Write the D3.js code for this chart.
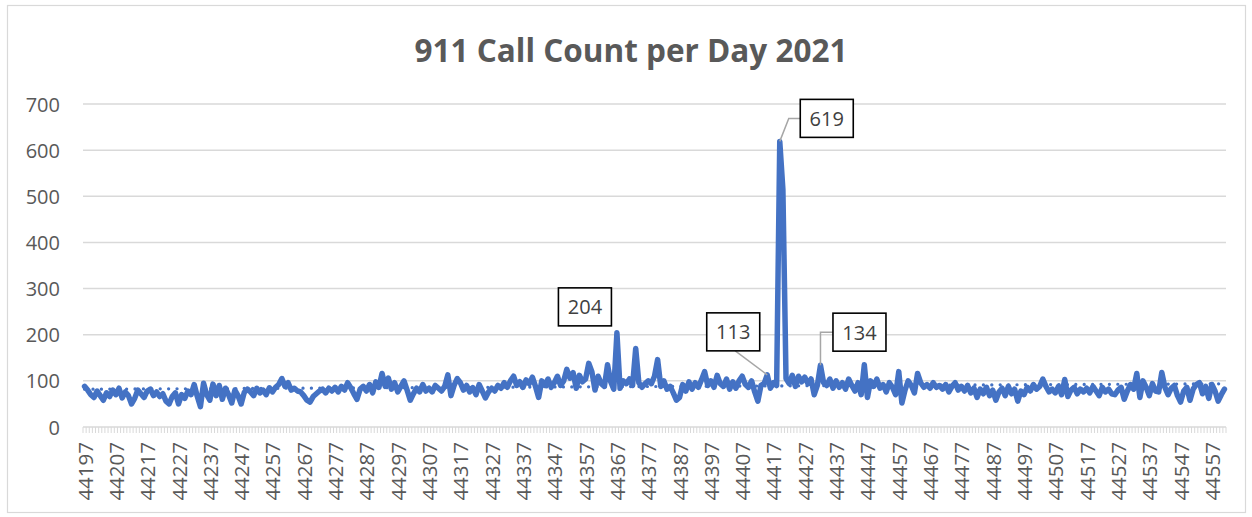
<!DOCTYPE html>
<html>
<head>
<meta charset="utf-8">
<script src="https://cdn.jsdelivr.net/npm/d3@7/dist/d3.min.js"></script>
<style>
  html, body { margin: 0; padding: 0; background: #fff; }
  svg { display: block; }
</style>
</head>
<body>
<svg id="chart" width="1252" height="517"></svg>
<script>
// ---------------- DATA ----------------
const chartTitle = "911 Call Count per Day 2021";
const firstDate = 44197;   // Excel serial date for 2021-01-01
const dayCount = 365;
const dates = d3.range(firstDate, firstDate + dayCount);

const callCounts = [
  88, 80, 70, 64, 78, 68, 58, 74, 66, 80,
  70, 84, 63, 76, 68, 50, 62, 80, 72, 64,
  78, 82, 68, 76, 66, 72, 56, 50, 66, 74,
  50, 70, 62, 78, 70, 92, 66, 44, 95, 70,
  58, 93, 68, 90, 60, 84, 70, 52, 80, 68,
  50, 75, 82, 76, 68, 84, 74, 80, 70, 85,
  76, 86, 92, 105, 88, 96, 80, 84, 78, 76,
  68, 58, 54, 66, 72, 78, 82, 74, 84, 78,
  86, 76, 88, 80, 96, 85, 72, 60, 82, 88,
  78, 92, 74, 98, 86, 116, 88, 106, 82, 96,
  76, 88, 100, 80, 58, 72, 84, 76, 92, 78,
  84, 76, 90, 84, 78, 88, 113, 68, 90, 105,
  96, 80, 90, 76, 85, 70, 92, 78, 63, 76,
  84, 78, 90, 84, 96, 86, 100, 110, 90, 98,
  86, 102, 94, 108, 88, 64, 100, 90, 104, 86,
  96, 110, 90, 100, 125, 106, 118, 84, 112, 98,
  104, 138, 120, 80, 110, 94, 88, 135, 98, 82,
  204, 84, 100, 94, 104, 90, 170, 96, 86, 94,
  100, 94, 110, 146, 88, 100, 82, 88, 74, 58,
  64, 92, 78, 98, 82, 96, 86, 102, 120, 90,
  100, 86, 112, 94, 88, 104, 82, 98, 84, 100,
  110, 92, 86, 100, 76, 56, 90, 94, 113, 84,
  96, 90, 619, 515, 105, 94, 112, 88, 110, 98,
  108, 94, 104, 70, 90, 134, 96, 90, 104, 84,
  100, 86, 96, 82, 104, 90, 78, 96, 70, 135,
  64, 100, 88, 104, 84, 92, 76, 96, 86, 70,
  120, 52, 80, 100, 90, 74, 116, 96, 86, 92,
  84, 96, 86, 90, 82, 92, 76, 88, 96, 80,
  88, 78, 90, 74, 84, 64, 82, 72, 86, 68,
  80, 58, 76, 84, 68, 88, 72, 82, 56, 78,
  70, 86, 78, 92, 82, 88, 104, 88, 76, 82,
  74, 88, 70, 103, 66, 80, 86, 72, 82, 76,
  84, 74, 88, 78, 68, 86, 76, 82, 72, 70,
  80, 86, 60, 78, 92, 82, 116, 64, 100, 86,
  68, 94, 78, 76, 118, 86, 70, 84, 90, 68,
  54, 78, 86, 58, 82, 92, 96, 72, 88, 62,
  92, 78, 56, 70, 82
];

const yTicks = [0, 100, 200, 300, 400, 500, 600, 700];
const xTickLabels = [44197, 44207, 44217, 44227, 44237, 44247, 44257, 44267, 44277,
  44287, 44297, 44307, 44317, 44327, 44337, 44347, 44357, 44367, 44377, 44387,
  44397, 44407, 44417, 44427, 44437, 44447, 44457, 44467, 44477, 44487, 44497,
  44507, 44517, 44527, 44537, 44547, 44557];

// annotated points (dates)
const labelledDates = [44367, 44415, 44419, 44432];

// ---------------- LAYOUT / STYLE ----------------
const W = 1252, H = 517;
const plot = { left: 83, right: 1226, top: 104, bottom: 427 };
const colors = { line: "#4472C4", grid: "#D9D9D9", text: "#595959", label: "#404040", leader: "#A6A6A6" };
const fontFamily = "'Open Sans', 'Liberation Sans', sans-serif";
// label box offsets relative to the data point
const labelLayout = {
  44367: { dx: -32, dy: -26, leader: "none" },
  44415: { dx: -34, dy: -43, leader: "diag" },
  44419: { dx: 47, dy: -23, leader: "elbowH" },
  44432: { dx: 39, dy: -33, leader: "elbowV" }
};
const boxW = 53, boxH = 38;

const svg = d3.select("#chart");
svg.append("rect").attr("x", 0).attr("y", 0).attr("width", W).attr("height", H).attr("fill", "#fff");
svg.append("rect").attr("x", 7.5).attr("y", 5.5).attr("width", 1238).attr("height", 507)
  .attr("fill", "none").attr("stroke", colors.grid).attr("stroke-width", 1.2);

const x = d3.scalePoint().domain(dates).range([plot.left, plot.right]).padding(0.5);
const step = x.step();
const y = d3.scaleLinear().domain([0, 700]).range([plot.bottom, plot.top]);

// gridlines
svg.append("g").selectAll("line").data(yTicks.filter(d => d > 0)).join("line")
  .attr("x1", plot.left).attr("x2", plot.right)
  .attr("y1", d => y(d)).attr("y2", d => y(d))
  .attr("stroke", colors.grid).attr("stroke-width", 1.5);

// y labels
svg.append("g").selectAll("text").data(yTicks).join("text")
  .attr("x", 60).attr("y", d => y(d))
  .attr("text-anchor", "end").attr("dominant-baseline", "central")
  .attr("font-family", fontFamily).attr("font-size", 20).attr("fill", colors.text)
  .text(d => d);

// x axis line + tick marks at category boundaries
svg.append("line").attr("x1", plot.left).attr("x2", plot.right)
  .attr("y1", y(0)).attr("y2", y(0)).attr("stroke", colors.grid).attr("stroke-width", 1.5);
const boundaries = dates.map(d => x(d) - step / 2).concat([x(dates[dates.length - 1]) + step / 2]);
svg.append("g").selectAll("line").data(boundaries).join("line")
  .attr("x1", d => d).attr("x2", d => d)
  .attr("y1", y(0)).attr("y2", y(0) + 6)
  .attr("stroke", colors.grid).attr("stroke-width", 1);

// x labels
svg.append("g").selectAll("text").data(xTickLabels).join("text")
  .attr("transform", d => `translate(${x(d)},${y(0) + 15}) rotate(-90)`)
  .attr("text-anchor", "end").attr("dominant-baseline", "central")
  .attr("font-family", fontFamily).attr("font-size", 20.5).attr("fill", colors.text)
  .text(d => d);

// linear trendline (least squares over category index)
const n = callCounts.length;
const idx = d3.range(n);
const mx = d3.mean(idx), my = d3.mean(callCounts);
const slope = d3.sum(idx, i => (i - mx) * (callCounts[i] - my)) / d3.sum(idx, i => (i - mx) ** 2);
const intercept = my - slope * mx;
svg.append("line")
  .attr("x1", x(dates[0])).attr("y1", y(intercept))
  .attr("x2", x(dates[n - 1])).attr("y2", y(intercept + slope * (n - 1)))
  .attr("stroke", colors.line).attr("stroke-width", 3.2)
  .attr("stroke-linecap", "round").attr("stroke-dasharray", "0.1 8.3");

// main line
const lineGen = d3.line().x((d, i) => x(dates[i])).y(d => y(d));
svg.append("path").datum(callCounts)
  .attr("d", lineGen)
  .attr("fill", "none").attr("stroke", colors.line).attr("stroke-width", 5.5)
  .attr("stroke-linejoin", "round").attr("stroke-linecap", "round");

// data labels
const lab = svg.append("g");
labelledDates.forEach(d => {
  const v = callCounts[dates.indexOf(d)];
  const px = x(d), py = y(v);
  const L = labelLayout[d];
  const cx = px + L.dx, cy = py + L.dy;
  if (L.leader === "diag") {
    lab.append("line").attr("x1", cx + 2).attr("y1", cy + boxH / 2)
      .attr("x2", px).attr("y2", py).attr("stroke", colors.leader).attr("stroke-width", 1.5);
  } else if (L.leader === "elbowH") {
    lab.append("polyline").attr("points", `${cx - boxW / 2},${cy} ${px + 9},${cy} ${px},${py}`)
      .attr("fill", "none").attr("stroke", colors.leader).attr("stroke-width", 1.5);
  } else if (L.leader === "elbowV") {
    lab.append("polyline").attr("points", `${cx - boxW / 2},${cy} ${px},${cy} ${px},${py}`)
      .attr("fill", "none").attr("stroke", colors.leader).attr("stroke-width", 1.5);
  }
  lab.append("rect").attr("x", cx - boxW / 2).attr("y", cy - boxH / 2)
    .attr("width", boxW).attr("height", boxH)
    .attr("fill", "#fff").attr("stroke", "#000").attr("stroke-width", 1.6);
  lab.append("text").attr("x", cx).attr("y", cy)
    .attr("text-anchor", "middle").attr("dominant-baseline", "central")
    .attr("font-family", fontFamily).attr("font-size", 20).attr("fill", colors.label)
    .text(v);
});

// title, sized to the reference width
const title = svg.append("text").attr("x", 631).attr("y", 49)
  .attr("text-anchor", "middle").attr("dominant-baseline", "central")
  .attr("font-family", fontFamily).attr("font-weight", "bold")
  .attr("font-size", 26).attr("fill", colors.text).text(chartTitle);
const tw = title.node().getComputedTextLength();
title.attr("font-size", 26 * 433 / tw);
</script>
</body>
</html>
